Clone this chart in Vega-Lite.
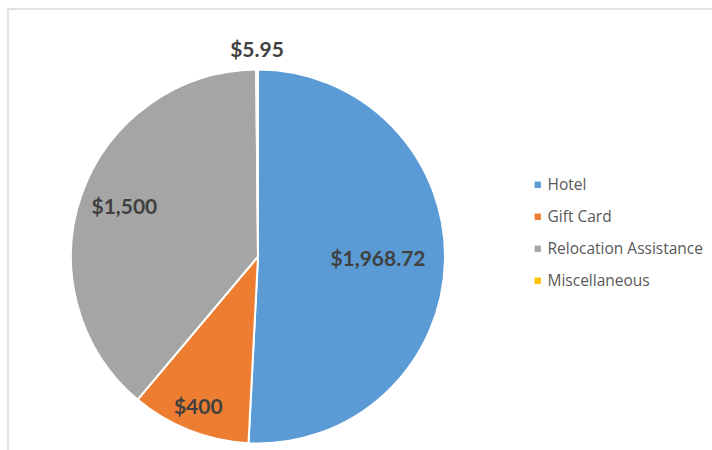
{
  "$schema": "https://vega.github.io/schema/vega-lite/v6.json",
  "width": 712,
  "height": 450,
  "autosize": {"type": "fit", "contains": "padding"},
  "padding": {"left": 8, "top": 9, "right": -10, "bottom": -10},
  "background": "white",
  "view": {"stroke": "#d9d9d9", "strokeWidth": 1.5},
  "config": {"font": "Lato"},
  "data": {
    "values": [
      {"category": "Hotel", "amount": 1968.72, "label": "$1,968.72", "n": 1},
      {"category": "Gift Card", "amount": 400, "label": "$400", "n": 2},
      {"category": "Relocation Assistance", "amount": 1500, "label": "$1,500", "n": 3},
      {"category": "Miscellaneous", "amount": 5.95, "label": "$5.95", "n": 4}
    ]
  },
  "encoding": {
    "theta": {"field": "amount", "type": "quantitative", "stack": true},
    "order": {"field": "n", "type": "quantitative"}
  },
  "layer": [
    {
      "mark": {"type": "arc", "radius": 187, "stroke": "white", "strokeWidth": 2, "xOffset": -107, "yOffset": 22},
      "encoding": {
        "color": {
          "field": "category",
          "type": "nominal",
          "scale": {
            "domain": ["Hotel", "Gift Card", "Relocation Assistance", "Miscellaneous"],
            "range": ["#5B9BD5", "#ED7D31", "#A5A5A5", "#FFC000"]
          },
          "legend": {
            "title": null,
            "orient": "none",
            "legendX": 522,
            "legendY": 168,
            "symbolType": "square",
            "symbolSize": 40,
            "symbolStrokeWidth": 0,
            "labelFont": "Open Sans",
            "labelFontSize": 15.5,
            "labelColor": "#595959",
            "labelOffset": 2,
            "rowPadding": 15,
            "padding": 0
          }
        }
      }
    },
    {
      "mark": {"type": "text", "radius": 120, "xOffset": -107, "yOffset": 22, "font": "Lato", "fontWeight": "bold", "fontSize": 21, "fill": "#404040"},
      "encoding": {"text": {"condition": {"test": "datum.category === 'Hotel'", "field": "label"}, "value": ""}}
    },
    {
      "mark": {"type": "text", "radius": 163, "xOffset": -107, "yOffset": 22, "font": "Lato", "fontWeight": "bold", "fontSize": 21, "fill": "#404040"},
      "encoding": {"text": {"condition": {"test": "datum.category === 'Gift Card'", "field": "label"}, "value": ""}}
    },
    {
      "mark": {"type": "text", "radius": 142, "xOffset": -107, "yOffset": 22, "font": "Lato", "fontWeight": "bold", "fontSize": 21, "fill": "#404040"},
      "encoding": {"text": {"condition": {"test": "datum.category === 'Relocation Assistance'", "field": "label"}, "value": ""}}
    },
    {
      "mark": {"type": "text", "radius": 206, "xOffset": -107, "yOffset": 22, "font": "Lato", "fontWeight": "bold", "fontSize": 21, "fill": "#404040"},
      "encoding": {"text": {"condition": {"test": "datum.category === 'Miscellaneous'", "field": "label"}, "value": ""}}
    }
  ]
}
